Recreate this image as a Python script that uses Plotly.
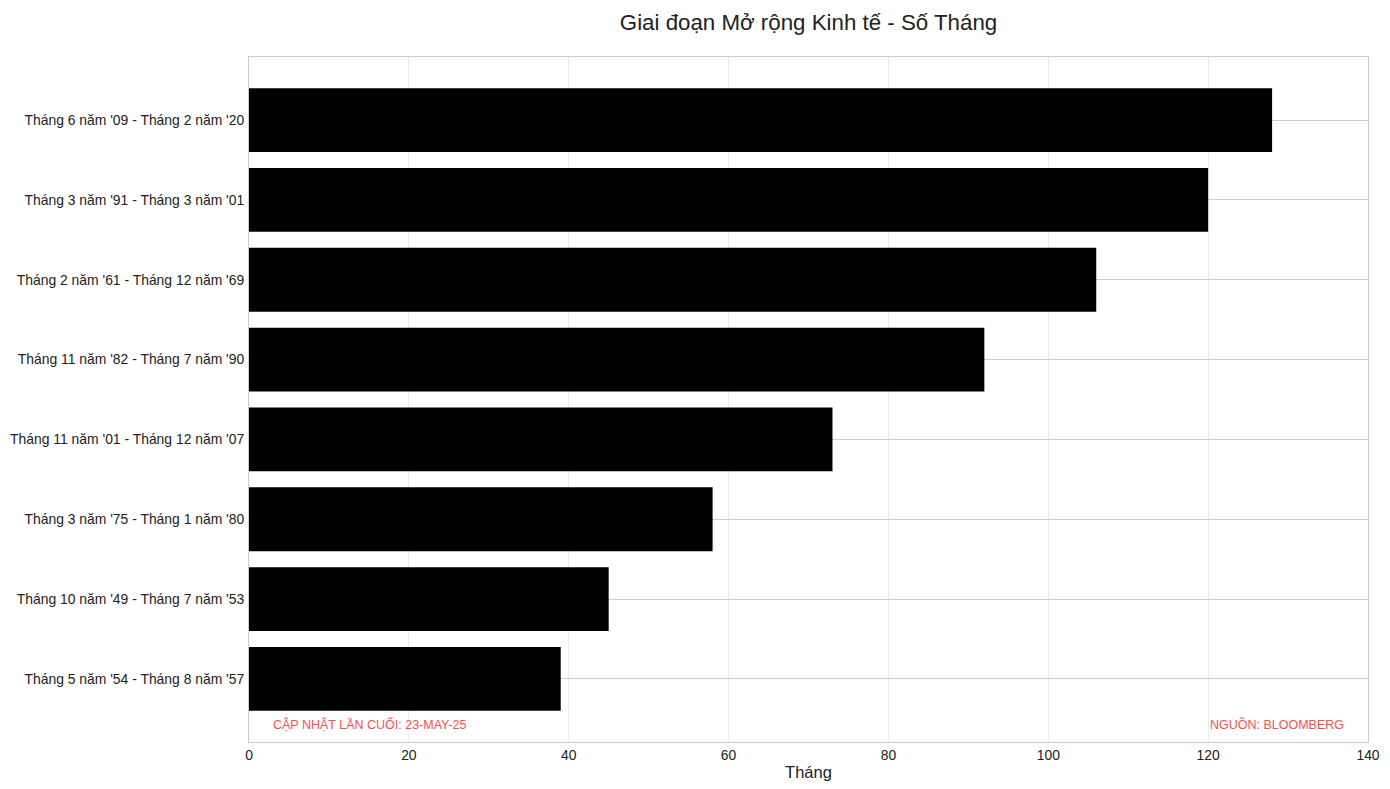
import plotly.graph_objects as go

categories = [
    "Tháng 5 năm '54 - Tháng 8 năm '57",
    "Tháng 10 năm '49 - Tháng 7 năm '53",
    "Tháng 3 năm '75 - Tháng 1 năm '80",
    "Tháng 11 năm '01 - Tháng 12 năm '07",
    "Tháng 11 năm '82 - Tháng 7 năm '90",
    "Tháng 2 năm '61 - Tháng 12 năm '69",
    "Tháng 3 năm '91 - Tháng 3 năm '01",
    "Tháng 6 năm '09 - Tháng 2 năm '20",
]
months = [39, 45, 58, 73, 92, 106, 120, 128]
x_ticks = [0, 20, 40, 60, 80, 100, 120, 140]

FONT = "Liberation Sans, Arial, sans-serif"

fig = go.Figure(
    go.Bar(
        x=months,
        y=list(range(len(categories))),
        orientation="h",
        marker=dict(color="black", line=dict(width=0)),
        width=0.8,
        hoverinfo="x+text",
        text=categories,
        textposition="none",
    )
)

fig.update_layout(
    width=1390,
    height=789,
    paper_bgcolor="white",
    plot_bgcolor="white",
    margin=dict(l=249, r=22, t=57, b=47, autoexpand=False),
    font=dict(family=FONT, color="#222222", size=13.9),
    title=dict(
        text="Giai đoạn Mở rộng Kinh tế - Số Tháng",
        xref="paper",
        x=0.5,
        xanchor="center",
        y=1 - 22 / 789,
        yanchor="middle",
        font=dict(size=22.3, color="#222222", family=FONT),
    ),
    showlegend=False,
    bargap=0.2,
)

fig.update_xaxes(
    range=[0, 140],
    tickvals=x_ticks,
    ticktext=[str(v) for v in x_ticks],
    automargin=False,
    showgrid=True,
    gridcolor="#ebebeb",
    gridwidth=1,
    zeroline=False,
    showline=True,
    linecolor="#cccccc",
    linewidth=1,
    mirror=True,
    ticks="",
    tickfont=dict(size=13.9, color="#222222"),
    title=dict(text="Tháng", font=dict(size=16.5, color="#222222"), standoff=4),
)

fig.update_yaxes(
    range=[-0.79, 7.79],
    tickvals=list(range(len(categories))),
    ticktext=categories,
    automargin=False,
    showgrid=True,
    gridcolor="#cccccc",
    gridwidth=1,
    zeroline=False,
    showline=True,
    linecolor="#cccccc",
    linewidth=1,
    mirror=True,
    ticks="",
    ticklabelstandoff=1,
    tickfont=dict(size=13.9, color="#222222"),
)

fig.add_annotation(
    text="CẬP NHẬT LẦN CUỐI: 23-MAY-25",
    xref="paper", yref="paper",
    x=0.02, y=0.025,
    xanchor="left", yanchor="middle",
    showarrow=False,
    font=dict(size=12.5, color="#ff4d4d", family=FONT),
)
fig.add_annotation(
    text="NGUỒN: BLOOMBERG",
    xref="paper", yref="paper",
    x=0.98, y=0.025,
    xanchor="right", yanchor="middle",
    showarrow=False,
    font=dict(size=12.5, color="#ff4d4d", family=FONT),
)

fig.write_html(
    "out.html",
    config={"displayModeBar": False},
    post_script="document.body.style.margin='0';document.body.style.padding='0';",
)
